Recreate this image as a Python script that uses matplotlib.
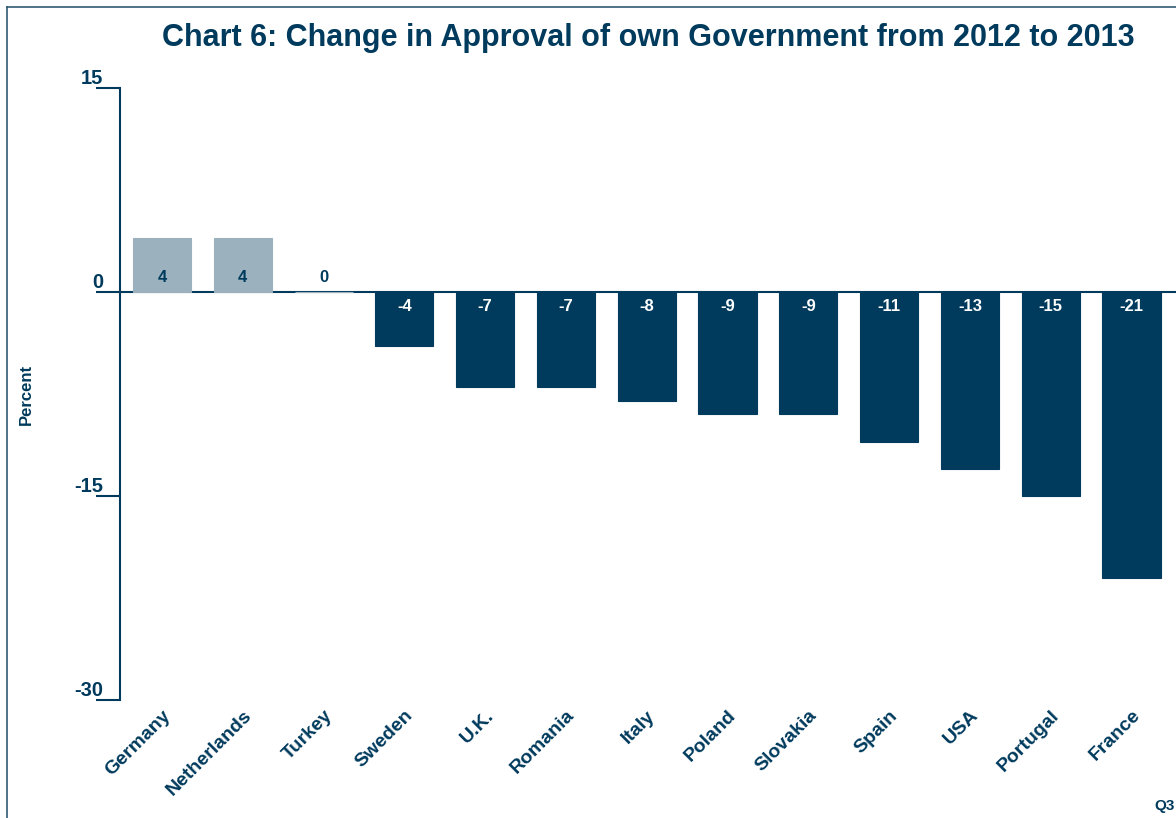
import matplotlib.pyplot as plt
from matplotlib.lines import Line2D

COUNTRIES = ["Germany", "Netherlands", "Turkey", "Sweden", "U.K.", "Romania", "Italy",
             "Poland", "Slovakia", "Spain", "USA", "Portugal", "France"]
CHANGE = [4, 4, 0, -4, -7, -7, -8, -9, -9, -11, -13, -15, -21]
YTICKS = [15, 0, -15, -30]

DARK = "#003a5c"
LIGHT = "#9bb1bd"
FONT = ["Liberation Sans", "DejaVu Sans"]

plt.rcParams["font.family"] = FONT


def main():
    fig = plt.figure(figsize=(11.76, 8.18), dpi=100)
    ax = fig.add_axes([120 / 1176, 1 - 700 / 818, 1 - 120 / 1176, (700 - 88) / 818])

    x = list(range(len(COUNTRIES)))
    colors = [LIGHT if v >= 0 else DARK for v in CHANGE]
    ax.bar(x, CHANGE, width=0.72, color=colors, edgecolor=colors, linewidth=0.8, zorder=2)
    ax.axhline(0, color=DARK, lw=1.5, zorder=1)

    for i, v in enumerate(CHANGE):
        if v >= 0:
            ax.text(i, 1.05, str(v), ha="center", va="center", fontsize=12,
                    fontweight="bold", color=DARK, zorder=3)
        else:
            ax.text(i, -1.05, str(v), ha="center", va="center", fontsize=12,
                    fontweight="bold", color="white", zorder=3)

    ax.set_xlim(-0.52, 12.55)
    ax.set_ylim(-30, 15)
    ax.set_yticks(YTICKS)
    ax.set_yticklabels([str(t) for t in YTICKS], fontsize=14.5, fontweight="bold", color=DARK)
    for lbl in ax.get_yticklabels():
        lbl.set_va("bottom")
    ax.tick_params(axis="y", length=17, width=1.5, color=DARK, pad=-5)

    ax.set_xticks(x)
    ax.set_xticklabels(COUNTRIES, rotation=45, ha="right", rotation_mode="anchor",
                       fontsize=14, fontweight="bold", color=DARK)
    ax.tick_params(axis="x", length=0, pad=5)

    for s in ["top", "right", "bottom"]:
        ax.spines[s].set_visible(False)
    ax.spines["left"].set_color(DARK)
    ax.spines["left"].set_linewidth(1.5)

    ax.set_ylabel("Percent", fontsize=12, fontweight="bold", color=DARK)
    ax.yaxis.set_label_coords(-0.082, 0.5)
    ax.set_title("Chart 6: Change in Approval of own Government from 2012 to 2013",
                 fontsize=22, fontweight="bold", color=DARK, pad=30)

    fig.text(1175 / 1176, 1 - 806 / 818, "Q3", fontsize=11, fontweight="bold",
             color=DARK, ha="right", va="center")

    # frame around the chart area (left and top visible)
    fig.add_artist(Line2D([7 / 1176, 7 / 1176], [0, 1 - 7 / 818], transform=fig.transFigure,
                          color="#2f5a73", lw=1.2))
    fig.add_artist(Line2D([7 / 1176, 1], [1 - 7 / 818, 1 - 7 / 818], transform=fig.transFigure,
                          color="#2f5a73", lw=1.2))

    fig.savefig("out.png", dpi=100)


if __name__ == "__main__":
    main()
